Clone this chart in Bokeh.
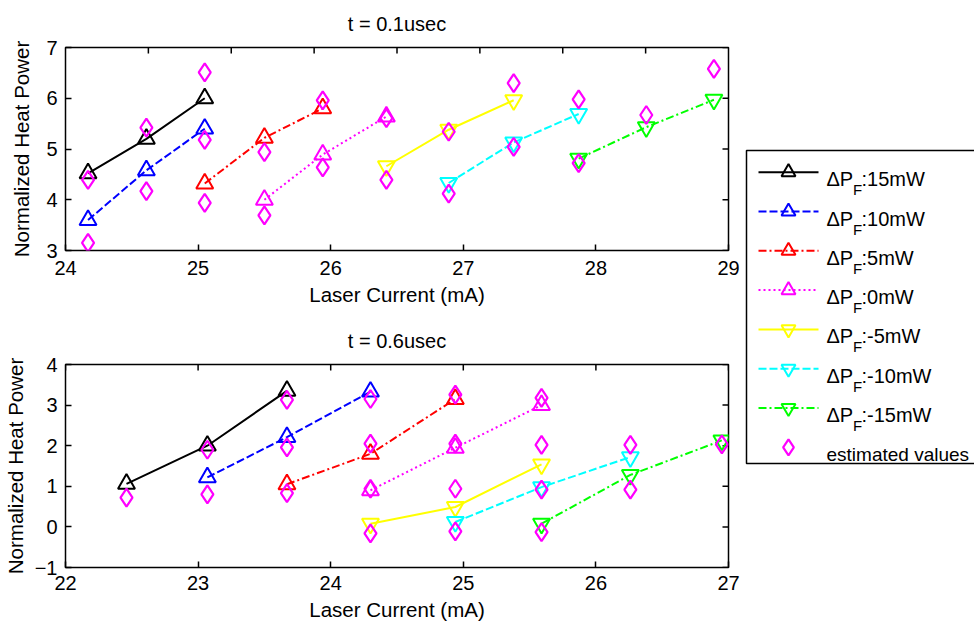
from bokeh.plotting import figure
from bokeh.models import Range1d, FixedTicker, Title
from bokeh.layouts import row, column
from bokeh.embed import file_html
from bokeh.resources import INLINE
from bokeh.core.properties import value
import math

FONT = "Liberation Sans"

# ---------------- data ----------------
series_names = ["15mW", "10mW", "5mW", "0mW", "-5mW", "-10mW", "-15mW"]

# t = 0.1 usec
a_x_p15 = [24.17, 24.61, 25.05]; a_y_p15 = [4.52, 5.20, 6.00]
a_x_p10 = [24.17, 24.61, 25.05]; a_y_p10 = [3.60, 4.58, 5.40]
a_x_p5 = [25.05, 25.50, 25.94];  a_y_p5 = [4.32, 5.22, 5.80]
a_x_0 = [25.50, 25.94, 26.42];   a_y_0 = [4.00, 4.89, 5.64]
a_x_m5 = [26.42, 26.89, 27.38];  a_y_m5 = [4.66, 5.38, 5.96]
a_x_m10 = [26.89, 27.38, 27.87]; a_y_m10 = [4.33, 5.13, 5.69]
a_x_m15 = [27.87, 28.38, 28.89]; a_y_m15 = [4.81, 5.43, 5.97]
a_est_x = [24.17, 24.17, 24.61, 24.61, 25.05, 25.05, 25.05, 25.50, 25.50, 25.94, 25.94,
           26.42, 26.42, 26.89, 26.89, 27.38, 27.38, 27.87, 27.87, 28.38, 28.89]
a_est_y = [4.39, 3.15, 5.42, 4.17, 6.51, 5.18, 3.94, 4.94, 3.69, 5.96, 4.64,
           5.61, 4.39, 5.34, 4.12, 6.30, 5.04, 5.98, 4.72, 5.67, 6.58]

# t = 0.6 usec
b_x_p15 = [22.46, 23.07, 23.67]; b_y_p15 = [1.06, 2.00, 3.35]
b_x_p10 = [23.07, 23.67, 24.30]; b_y_p10 = [1.22, 2.21, 3.33]
b_x_p5 = [23.67, 24.30, 24.94];  b_y_p5 = [1.05, 1.80, 3.15]
b_x_0 = [24.30, 24.94, 25.59];   b_y_0 = [0.90, 1.95, 3.00]
b_x_m5 = [24.30, 24.94, 25.59];  b_y_m5 = [0.08, 0.49, 1.54]
b_x_m10 = [24.94, 25.59, 26.26]; b_y_m10 = [0.12, 0.98, 1.72]
b_x_m15 = [25.59, 26.26, 26.95]; b_y_m15 = [0.08, 1.28, 2.13]
b_est_x = [22.46, 23.07, 23.07, 23.67, 23.67, 23.67, 24.30, 24.30, 24.30, 24.30, 24.94,
           24.94, 24.94, 24.94, 25.59, 25.59, 25.59, 25.59, 26.26, 26.26, 26.95]
b_est_y = [0.72, 1.90, 0.80, 3.13, 1.96, 0.83, 3.15, 2.05, 0.94, -0.16, 3.26,
           2.05, 0.94, -0.11, 3.18, 2.02, 0.92, -0.13, 2.02, 0.92, 2.03]

a_xticks = [24, 25, 26, 27, 28, 29]
a_xticks_top = [24.625, 25.25, 25.875, 26.5, 27.125, 27.75, 28.375]
a_yticks = [3, 4, 5, 6, 7]
b_xticks = [22, 23, 24, 25, 26, 27]
b_yticks = [-1, 0, 1, 2, 3, 4]

# ---------------- styles ----------------
colors = ["#000000", "#0000FF", "#FF0000", "#FF00FF", "#FFFF00", "#00FFFF", "#00FF00"]
dashes = ["solid", "8 3", "8 3 2 3", "2 3", "solid", "8 3", "8 3 2 3"]
markers = ["triangle"] * 4 + ["inverted_triangle"] * 3
EST_COLOR = "#FF00FF"
TXT = "#000000"


def style_axis(ax):
    ax.major_tick_in = 6
    ax.major_tick_out = 0
    ax.minor_tick_line_color = None
    ax.axis_line_color = None
    ax.major_tick_line_color = "black"
    ax.major_tick_line_width = 1.5
    ax.major_label_text_font = FONT
    ax.major_label_text_font_size = "20px"
    ax.major_label_text_color = TXT
    ax.axis_label_text_font = FONT
    ax.axis_label_text_font_size = "20.5px"
    ax.axis_label_text_font_style = "normal"
    ax.axis_label_text_color = TXT


def make_fig(title, xr, yr, xt, xt_top, yt, borders, std, series, est):
    bl, br, bt, bb = borders
    xlab_std, xtick_std, ylab_std, title_std = std
    p = figure(width=740, height=313, x_range=Range1d(*xr), y_range=Range1d(*yr),
               output_backend="svg", toolbar_location=None, title=None,
               min_border_left=bl, min_border_right=br, min_border_top=bt,
               min_border_bottom=bb)
    p.grid.visible = False
    p.outline_line_color = "black"
    p.outline_line_width = 1.5
    p.background_fill_color = "white"
    p.border_fill_color = "white"

    xa = p.xaxis[0]
    xa.ticker = FixedTicker(ticks=xt)
    style_axis(xa)
    xa.major_label_standoff = xtick_std
    xa.axis_label = "Laser Current (mA)"
    xa.axis_label_standoff = xlab_std

    ya = p.yaxis[0]
    ya.ticker = FixedTicker(ticks=yt)
    style_axis(ya)
    ya.major_label_standoff = 8
    ya.axis_label = "Normalized Heat Power"
    ya.axis_label_standoff = ylab_std

    # inward ticks on the top and right edges of the box (half of each dash is clipped)
    p.scatter(xt_top, [yr[1]] * len(xt_top), marker="dash", angle=math.pi / 2, size=12,
              line_color="black", line_width=1.5)
    p.scatter([xr[1]] * len(yt), yt, marker="dash", size=12,
              line_color="black", line_width=1.5)

    p.add_layout(Title(text=title, align="center", vertical_align="top", text_font=FONT,
                       text_font_size="20px", text_font_style="normal", text_color=TXT,
                       standoff=title_std), "above")

    for i, (xs, ys) in enumerate(series):
        p.line(xs, ys, line_color=colors[i], line_width=2, line_dash=dashes[i])
        p.scatter(xs, ys, marker=markers[i], size=17, fill_color=None,
                  line_color=colors[i], line_width=2)
    ex, ey = est
    p.scatter(ex, ey, marker="diamond", size=18, fill_color=None,
              line_color=EST_COLOR, line_width=2.2)
    return p


top = make_fig("t = 0.1usec", (24, 29), (3, 7), a_xticks, a_xticks_top, a_yticks,
               (61, 12, 47, 63), (5, 10, 10, 22),
               [(a_x_p15, a_y_p15), (a_x_p10, a_y_p10), (a_x_p5, a_y_p5), (a_x_0, a_y_0),
                (a_x_m5, a_y_m5), (a_x_m10, a_y_m10), (a_x_m15, a_y_m15)],
               (a_est_x, a_est_y))
bottom = make_fig("t = 0.6usec", (22, 27), (-1, 4), b_xticks, b_xticks, b_yticks,
                  (63, 10, 51, 59), (5, 8, 5, 22),
                  [(b_x_p15, b_y_p15), (b_x_p10, b_y_p10), (b_x_p5, b_y_p5), (b_x_0, b_y_0),
                   (b_x_m5, b_y_m5), (b_x_m10, b_y_m10), (b_x_m15, b_y_m15)],
                  (b_est_x, b_est_y))

# ---------------- legend panel (pixel coordinates) ----------------
lg = figure(width=234, height=626, x_range=Range1d(0, 234), y_range=Range1d(626, 0),
            output_backend="svg", toolbar_location=None, min_border=0)
lg.axis.visible = False
lg.grid.visible = False
lg.outline_line_color = None
lg.border_fill_color = "white"

lg.quad(left=[6], right=[400], top=[150], bottom=[463], fill_color="white",
        line_color="black", line_width=1.5)

row_y0 = 171.7
row_dy = 39.3
for i, name in enumerate(series_names):
    yy = row_y0 + i * row_dy
    lg.line([18, 78], [yy, yy], line_color=colors[i], line_width=2, line_dash=dashes[i])
    lg.scatter([48], [yy], marker=markers[i], size=14, fill_color=None,
               line_color=colors[i], line_width=2)
    lg.text([86], [yy + 7], text=["\u0394P"], text_font=value(FONT),
            text_font_size="20px", text_baseline="alphabetic", text_color=TXT)
    lg.text([112.5], [yy + 17.5], text=["F"], text_font=value(FONT),
            text_font_size="15px", text_baseline="alphabetic", text_color=TXT)
    lg.text([121], [yy + 7], text=[":" + name], text_font=value(FONT),
            text_font_size="20px", text_baseline="alphabetic", text_color=TXT)

ey = row_y0 + 7 * row_dy
lg.scatter([48], [ey], marker="diamond", size=16, fill_color=None,
           line_color=EST_COLOR, line_width=2.2)
lg.text([86], [ey + 7], text=["estimated values"], text_font=value(FONT),
        text_font_size="19px", text_baseline="alphabetic", text_color=TXT)

layout = row(column(top, bottom), lg)
open("out.html", "w").write(file_html(layout, INLINE))
